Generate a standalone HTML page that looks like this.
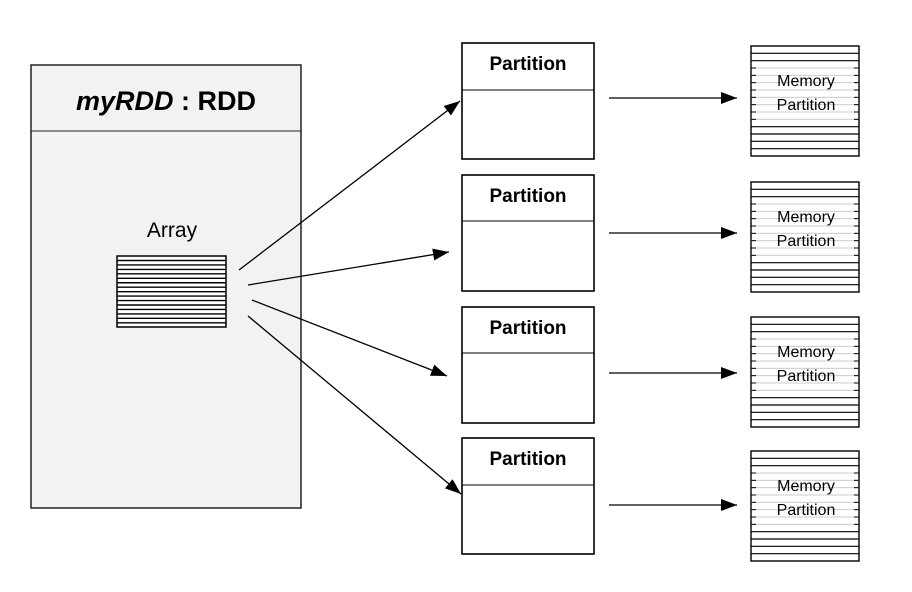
<!DOCTYPE html>
<html><head><meta charset="utf-8"><style>
html,body{margin:0;padding:0;background:#fff;width:912px;height:592px;overflow:hidden}
svg{display:block}
text{font-family:"Liberation Sans","DejaVu Sans",sans-serif}
</style></head><body>
<svg id="s" width="912" height="592" xmlns="http://www.w3.org/2000/svg">
<defs><marker id="a" markerWidth="10" markerHeight="10" refX="9" refY="5" orient="auto" markerUnits="userSpaceOnUse"><path d="M0,0 L10,5 L0,10 z" fill="#000"/></marker>
<marker id="b" viewBox="0 0 16 12" markerWidth="16" markerHeight="12" refX="16" refY="6" orient="auto" markerUnits="userSpaceOnUse"><path d="M0,0 L16,6 L0,12 z" fill="#000"/></marker></defs>
<rect x="31" y="65" width="270" height="443" fill="#f2f2f2" stroke="#222" stroke-width="1.5"/>
<line x1="31" y1="131" x2="301" y2="131" stroke="#222" stroke-width="1"/>
<text x="166" y="110" text-anchor="middle" font-size="27" font-weight="bold"><tspan font-style="italic">myRDD</tspan> : RDD</text>
<text x="172" y="237" text-anchor="middle" font-size="21">Array</text>
<g id="arr"></g>
<g id="parts"></g>
<g id="mems"></g>
<g stroke="#000" stroke-width="1.3" fill="none">
<line x1="239" y1="270" x2="460" y2="101" marker-end="url(#b)"/>
<line x1="248" y1="285" x2="449" y2="252" marker-end="url(#b)"/>
<line x1="252" y1="300" x2="447" y2="376" marker-end="url(#b)"/>
<line x1="248" y1="316" x2="461" y2="494" marker-end="url(#b)"/>
<line x1="609" y1="98" x2="737" y2="98" marker-end="url(#b)"/>
<line x1="609" y1="233" x2="737" y2="233" marker-end="url(#b)"/>
<line x1="609" y1="373" x2="737" y2="373" marker-end="url(#b)"/>
<line x1="609" y1="505" x2="737" y2="505" marker-end="url(#b)"/>
</g>
</svg>
<script>
var NS="http://www.w3.org/2000/svg";
function el(p,t,a,txt){var e=document.createElementNS(NS,t);for(var k in a)e.setAttribute(k,a[k]);if(txt)e.textContent=txt;p.appendChild(e);return e;}
var arr=document.getElementById('arr');
el(arr,'rect',{x:117,y:256,width:109,height:71,fill:'#fff',stroke:'#000','stroke-width':1.5});
for(var y=260.5;y<327;y+=4.45)el(arr,'line',{x1:117,y1:y,x2:226,y2:y,stroke:'#000','stroke-width':1.4});
var parts=document.getElementById('parts');
[[43,90],[175,221],[307,353],[438,485]].forEach(function(p){
 el(parts,'rect',{x:462,y:p[0],width:132,height:116,fill:'#fff',stroke:'#000','stroke-width':1.6});
 el(parts,'line',{x1:462,y1:p[1],x2:594,y2:p[1],stroke:'#000','stroke-width':1});
 el(parts,'text',{x:528,y:p[0]+27,'text-anchor':'middle','font-size':19,'font-weight':'bold'},'Partition');
});
var mems=document.getElementById('mems');
[46,182,317,451].forEach(function(t){
 var h=110;
 el(mems,'rect',{x:751,y:t,width:108,height:h,fill:'#fff',stroke:'#000','stroke-width':1.4});
 for(var i=1;i<15;i++){var y=t+i*h/15;var mid=(i>=3&&i<=10);
  if(mid){el(mems,'line',{x1:751,y1:y,x2:859,y2:y,stroke:'#ccc','stroke-width':1});
   el(mems,'line',{x1:751,y1:y,x2:756,y2:y,stroke:'#000','stroke-width':1});
   el(mems,'line',{x1:854,y1:y,x2:859,y2:y,stroke:'#000','stroke-width':1});}
  else el(mems,'line',{x1:751,y1:y,x2:859,y2:y,stroke:'#000','stroke-width':1.2});}
 el(mems,'text',{x:806,y:t+40,'text-anchor':'middle','font-size':16},'Memory');
 el(mems,'text',{x:806,y:t+64,'text-anchor':'middle','font-size':16},'Partition');
});
</script>
</body></html>
